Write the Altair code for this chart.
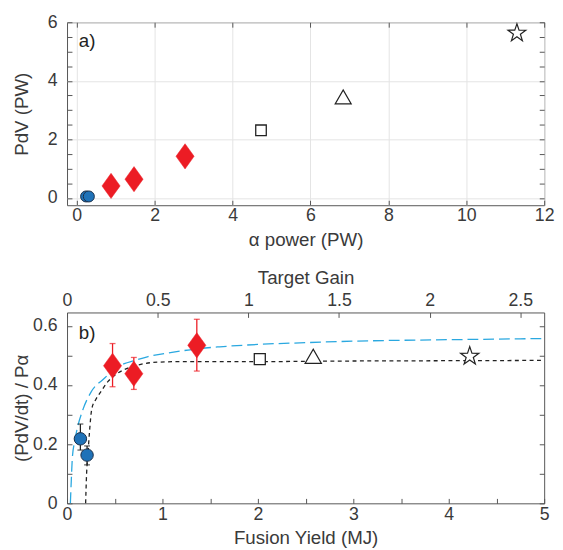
import math
import altair as alt
import pandas as pd

FONT = "Liberation Sans"
AX = "#555555"
TXT = "#3a3a3a"
RED = "#EC1C24"
BLUE = "#1F72B8"
BLUE_EDGE = "#1b2f48"
CYAN = "#2AA8E0"

# ---------------- panel a) data ----------------
a_circle_x = [0.24, 0.31]
a_circle_y = [0.05, 0.05]
a_diamond_x = [0.88, 1.47, 2.78]
a_diamond_y = [0.41, 0.64, 1.42]
a_square_x = [4.73]
a_square_y = [2.31]
a_triangle_x = [6.84]
a_triangle_y = [3.45]
a_star_x = [11.3]
a_star_y = [5.63]

a_x_ticks = [0, 2, 4, 6, 8, 10, 12]
a_y_ticks = [0, 2, 4, 6]
a_y_minor = [0, 0.5, 1, 1.5, 2, 2.5, 3, 3.5, 4, 4.5, 5, 5.5, 6]

# ---------------- panel b) data ----------------
b_circle_x = [0.14, 0.21]
b_circle_y = [0.218, 0.163]
b_circle_lo = [0.18, 0.13]
b_circle_hi = [0.268, 0.194]
b_diamond_x = [0.477, 0.70, 1.36]
b_diamond_y = [0.465, 0.438, 0.534]
b_diamond_lo = [0.394, 0.385, 0.447]
b_diamond_hi = [0.54, 0.493, 0.622]
b_square_x = [2.02]
b_square_y = [0.487]
b_triangle_x = [2.58]
b_triangle_y = [0.497]
b_star_x = [4.22]
b_star_y = [0.497]

blue_curve_x = [0.035, 0.045, 0.055, 0.08, 0.105, 0.17, 0.25, 0.4, 0.48, 0.6, 0.7, 0.85,
                1.1, 1.36, 1.6, 2.0, 2.5, 3.0, 3.5, 4.0, 4.5, 5.0]
blue_curve_y = [0.0, 0.08, 0.15, 0.21, 0.25, 0.32, 0.375, 0.425, 0.45, 0.472, 0.482, 0.496,
                0.51, 0.522, 0.529, 0.537, 0.543, 0.548, 0.551, 0.553, 0.555, 0.557]
black_curve_x = [0.195, 0.205, 0.218, 0.235, 0.26, 0.3, 0.35, 0.43, 0.5, 0.6, 0.75, 0.9,
                 1.2, 2.0, 3.0, 4.0, 5.0]
black_curve_y = [0.0, 0.1, 0.16, 0.24, 0.32, 0.35, 0.375, 0.412, 0.433, 0.452, 0.468, 0.476,
                 0.479, 0.479, 0.481, 0.482, 0.483]

b_x_ticks = [0, 1, 2, 3, 4, 5]
b_x_minor = [0, 0.5, 1, 1.5, 2, 2.5, 3, 3.5, 4, 4.5, 5]
b_y_ticks = [0, 0.2, 0.4, 0.6]
b_y_minor = [0, 0.1, 0.2, 0.3, 0.4, 0.5, 0.6]
gain_ticks = [0, 0.5, 1, 1.5, 2, 2.5]
laser_energy_mj = 1.9  # target gain = fusion yield / laser energy
gain_tick_pos = [g * laser_energy_mj for g in gain_ticks]

# ---------------- shapes ----------------
DIAMOND = "M0,-1.25L0.9,0L0,1.25L-0.9,0Z"
_pts = []
for k in range(10):
    r = 1.0 if k % 2 == 0 else 0.39
    ang = math.radians(-90 + 36 * k)
    _pts.append((r * math.cos(ang), r * math.sin(ang)))
STAR = "M" + "L".join(f"{px:.3f},{py:.3f}" for px, py in _pts) + "Z"

W = 485
HA = 186
HB = 194

LBL = 18
TTL = 19


def df(xs, ys, **extra):
    d = {"x": xs, "y": ys}
    d.update(extra)
    return pd.DataFrame(d)


def tick_axis(orient, offset, values):
    return alt.Axis(orient=orient, offset=offset, values=values, labels=False, domain=False,
                    grid=False, title=None, ticks=True, tickSize=5, tickColor=AX, tickWidth=1)


def main_x(values, title, grid):
    return alt.Axis(orient="bottom", values=values, title=title, ticks=False, domain=False,
                    grid=grid, gridColor="#e3e3e3", gridWidth=1, labelPadding=2, titlePadding=6,
                    labelFlush=False, labelOverlap=False, format="~g")


def main_y(values, title, grid):
    return alt.Axis(orient="left", values=values, title=title, ticks=False, domain=False,
                    grid=grid, gridColor="#e3e3e3", gridWidth=1, labelPadding=10,
                    minExtent=32, maxExtent=32, titlePadding=4,
                    labelFlush=False, labelOverlap=False, format="~g")


def pts(data, xs, ys, shape, size, fill, stroke, sw, filled=True):
    return alt.Chart(data).mark_point(shape=shape, size=size, filled=filled, fill=fill,
                                      stroke=stroke, strokeWidth=sw, opacity=1).encode(
        x=alt.X("x:Q", scale=xs, axis=None), y=alt.Y("y:Q", scale=ys, axis=None))


# ---------------- panel a ----------------
xa = alt.Scale(domain=[-0.25, 12], nice=False, zero=False)
ya = alt.Scale(domain=[-0.25, 6], nice=False, zero=False)

all_a = df(a_circle_x + a_diamond_x + a_square_x + a_triangle_x + a_star_x,
           a_circle_y + a_diamond_y + a_square_y + a_triangle_y + a_star_y)

a_base = alt.Chart(all_a).mark_point(opacity=0, size=1).encode(
    x=alt.X("x:Q", scale=xa, axis=main_x(a_x_ticks, "α power (PW)", True)),
    y=alt.Y("y:Q", scale=ya, axis=main_y(a_y_ticks, "PdV (PW)", True)))
a_t1 = alt.Chart(all_a).mark_point(opacity=0, size=1).encode(
    x=alt.X("x:Q", scale=xa, axis=tick_axis("top", -HA, a_x_ticks)),
    y=alt.Y("y:Q", scale=ya, axis=tick_axis("right", -W, a_y_minor)))
a_t2 = alt.Chart(all_a).mark_point(opacity=0, size=1).encode(
    x=alt.X("x:Q", scale=xa, axis=tick_axis("bottom", -HA, a_x_ticks)),
    y=alt.Y("y:Q", scale=ya, axis=tick_axis("left", -W, a_y_minor)))

a_circ = pts(df(a_circle_x, a_circle_y), xa, ya, "circle", 125, BLUE, BLUE_EDGE, 1)
a_diam = pts(df(a_diamond_x, a_diamond_y), xa, ya, DIAMOND, 420, RED, RED, 0.5)
a_sq = pts(df(a_square_x, a_square_y), xa, ya, "square", 115, "white", "#222", 1.3)
a_tri = pts(df(a_triangle_x, a_triangle_y), xa, ya, "triangle-up", 260, "white", "#222", 1.3)
a_st = pts(df(a_star_x, a_star_y), xa, ya, STAR, 360, "white", "#222", 1.2)

a_lab = alt.Chart(pd.DataFrame({"t": ["a)"]})).mark_text(
    align="left", baseline="middle", font=FONT, fontSize=TTL, color="#222").encode(
    text="t:N", x=alt.value(12), y=alt.value(19))

panel_a = alt.layer(a_base, a_t1, a_t2, a_circ, a_diam, a_sq, a_tri, a_st, a_lab).resolve_axis(
    x="independent", y="independent").properties(width=W, height=HA)

# ---------------- panel b ----------------
xb = alt.Scale(domain=[0, 5], nice=False, zero=False)
yb = alt.Scale(domain=[0, 0.645], nice=False, zero=False)

all_b = df(b_circle_x + b_diamond_x + b_square_x + b_triangle_x + b_star_x,
           b_circle_y + b_diamond_y + b_square_y + b_triangle_y + b_star_y)

b_base = alt.Chart(all_b).mark_point(opacity=0, size=1).encode(
    x=alt.X("x:Q", scale=xb, axis=main_x(b_x_ticks, "Fusion Yield (MJ)", False)),
    y=alt.Y("y:Q", scale=yb, axis=main_y(b_y_ticks, "(PdV/dt) / Pα", False)))
b_gain = alt.Chart(all_b).mark_point(opacity=0, size=1).encode(
    x=alt.X("x:Q", scale=xb, axis=alt.Axis(
        orient="top", values=gain_tick_pos, title="Target Gain", ticks=False, domain=False,
        grid=False, labelPadding=3, titlePadding=4, labelFlush=False, labelOverlap=False,
        labelExpr=f"format(datum.value / {laser_energy_mj}, '~g')")),
    y=alt.Y("y:Q", scale=yb, axis=None))
b_t1 = alt.Chart(all_b).mark_point(opacity=0, size=1).encode(
    x=alt.X("x:Q", scale=xb, axis=tick_axis("top", -HB, b_x_minor)),
    y=alt.Y("y:Q", scale=yb, axis=tick_axis("right", -W, b_y_minor)))
b_t2 = alt.Chart(all_b).mark_point(opacity=0, size=1).encode(
    x=alt.X("x:Q", scale=xb, axis=tick_axis("bottom", -HB, gain_tick_pos)),
    y=alt.Y("y:Q", scale=yb, axis=tick_axis("left", -W, b_y_minor)))

blue_line = alt.Chart(df(blue_curve_x, blue_curve_y)).mark_line(
    color=CYAN, strokeWidth=1.3, strokeDash=[11, 5], interpolate="monotone").encode(
    x=alt.X("x:Q", scale=xb, axis=None), y=alt.Y("y:Q", scale=yb, axis=None))
black_line = alt.Chart(df(black_curve_x, black_curve_y)).mark_line(
    color="#222", strokeWidth=1.3, strokeDash=[4, 3.5], interpolate="monotone").encode(
    x=alt.X("x:Q", scale=xb, axis=None), y=alt.Y("y:Q", scale=yb, axis=None))


def errbars(xs, lo, hi, color):
    d = pd.DataFrame({"x": xs, "lo": lo, "hi": hi})
    rule = alt.Chart(d).mark_rule(color=color, strokeWidth=1.3).encode(
        x=alt.X("x:Q", scale=xb, axis=None), y=alt.Y("lo:Q", scale=yb, axis=None), y2="hi:Q")
    cap_lo = alt.Chart(d).mark_tick(color=color, orient="horizontal", size=6, thickness=1.3).encode(
        x=alt.X("x:Q", scale=xb, axis=None), y=alt.Y("lo:Q", scale=yb, axis=None))
    cap_hi = alt.Chart(d).mark_tick(color=color, orient="horizontal", size=6, thickness=1.3).encode(
        x=alt.X("x:Q", scale=xb, axis=None), y=alt.Y("hi:Q", scale=yb, axis=None))
    return [rule, cap_lo, cap_hi]


b_err_c = errbars(b_circle_x, b_circle_lo, b_circle_hi, "#222")
b_err_d = errbars(b_diamond_x, b_diamond_lo, b_diamond_hi, RED)

b_circ = pts(df(b_circle_x, b_circle_y), xb, yb, "circle", 160, BLUE, BLUE_EDGE, 1)
b_diam = pts(df(b_diamond_x, b_diamond_y), xb, yb, DIAMOND, 420, RED, RED, 0.5)
b_sq = pts(df(b_square_x, b_square_y), xb, yb, "square", 125, "white", "#222", 1.3)
b_tri = pts(df(b_triangle_x, b_triangle_y), xb, yb, "triangle-up", 270, "white", "#222", 1.3)
b_st = pts(df(b_star_x, b_star_y), xb, yb, STAR, 380, "white", "#222", 1.2)

b_lab = alt.Chart(pd.DataFrame({"t": ["b)"]})).mark_text(
    align="left", baseline="middle", font=FONT, fontSize=TTL, color="#222").encode(
    text="t:N", x=alt.value(12), y=alt.value(21))

panel_b = alt.layer(b_base, b_gain, b_t1, b_t2, blue_line, black_line, *b_err_c, *b_err_d,
                    b_circ, b_diam, b_sq, b_tri, b_st, b_lab).resolve_axis(
    x="independent", y="independent").properties(width=W, height=HB)

chart = alt.vconcat(panel_a, panel_b, spacing=18).properties(
    padding={"left": 4, "top": 0, "right": 0, "bottom": 0}
).configure(font=FONT).configure_view(
    stroke=AX, strokeWidth=1
).configure_axis(
    labelFont=FONT, labelFontSize=LBL, labelColor=TXT,
    titleFont=FONT, titleFontSize=TTL, titleColor=TXT, titleFontWeight="normal"
)

chart.save("out.html", embed_options={"renderer": "svg", "actions": False})
